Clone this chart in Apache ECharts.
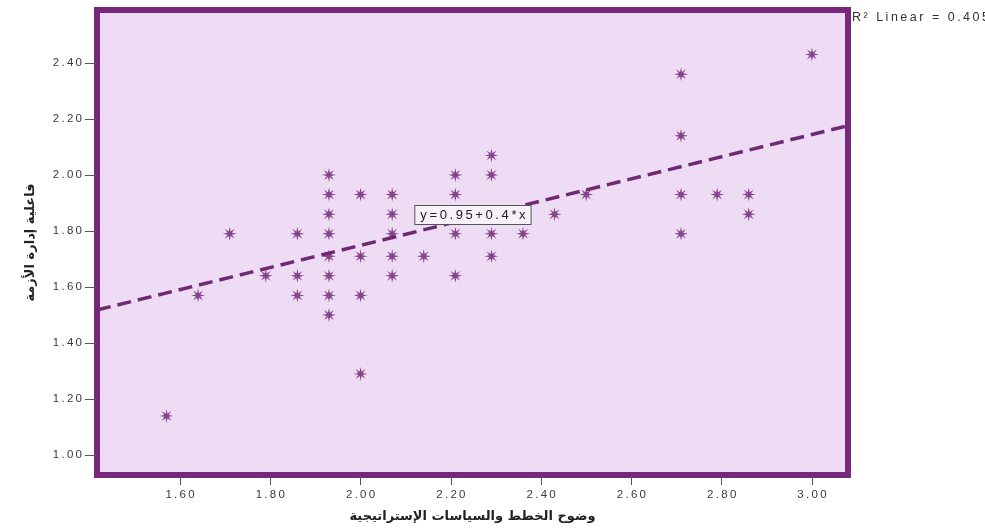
<!DOCTYPE html>
<html>
<head>
<meta charset="utf-8">
<script src="https://cdn.jsdelivr.net/npm/echarts@6/dist/echarts.min.js"></script>
<style>
html,body{margin:0;padding:0;background:#ffffff;}
#chart{width:985px;height:529px;}
</style>
</head>
<body>
<div id="chart"></div>
<script>
// ---- data ----
var xValues = [1.57,1.64,1.71,1.79,1.86,1.86,1.86,
  1.93,1.93,1.93,1.93,1.93,1.93,1.93,1.93,
  2.00,2.00,2.00,2.00,
  2.07,2.07,2.07,2.07,2.07,
  2.14,
  2.21,2.21,2.21,2.21,
  2.29,2.29,2.29,2.29,
  2.36,2.43,2.50,
  2.71,2.71,2.71,2.71,
  2.79,2.86,2.86,3.00];
var yValues = [1.14,1.57,1.79,1.64,1.79,1.64,1.57,
  2.00,1.93,1.86,1.79,1.71,1.64,1.57,1.50,
  1.93,1.71,1.57,1.29,
  1.93,1.86,1.79,1.71,1.64,
  1.71,
  2.00,1.93,1.79,1.64,
  2.07,2.00,1.79,1.71,
  1.79,1.86,1.93,
  2.36,2.14,1.93,1.79,
  1.93,1.93,1.86,2.43];
var fitLineX = [1.416, 3.08];
var fitLineY = [1.518, 2.176];
var xTicks = [1.6,1.8,2.0,2.2,2.4,2.6,2.8,3.0];
var yTicks = [1.0,1.2,1.4,1.6,1.8,2.0,2.2,2.4];
var xTitle = 'وضوح الخطط والسياسات الإستراتيجية';
var yTitle = 'فاعلية إدارة الأزمة';
var equationText = 'y=0.95+0.4*x';
var equationAt = [2.249, 1.857];
var r2Text = 'R² Linear = 0.405';

var points = xValues.map(function(x,i){return [x,yValues[i]];});
var fitLine = fitLineX.map(function(x,i){return [x,fitLineY[i]];});

// widen text like the original rendering (thin spaces between characters)
function spaced(s){ return s.split('').join('\u2009'); }

var starPath = 'path://M100 50 L66 57 L85.36 85.36 L57 66 L50 100 L43 66 L14.64 85.36 L34 57 L0 50 L34 43 L14.64 14.64 L43 34 L50 0 L57 34 L85.36 14.64 L66 43 Z';

var chart = echarts.init(document.getElementById('chart'), null, {renderer:'canvas'});
var labelFont = {fontFamily:'Liberation Sans, Arial, sans-serif', fontSize:11.5, color:'#3a3a3a'};
chart.setOption({
  animation:false,
  backgroundColor:'#ffffff',
  grid:{left:97, right:137, top:10, bottom:54, show:true,
        backgroundColor:'#eedcf5', borderColor:'#77287a', borderWidth:6, containLabel:false},
  xAxis:{type:'value', min:1.416, max:3.08,
    axisLine:{show:false}, splitLine:{show:false},
    axisTick:{show:true, length:10, lineStyle:{color:'#555555', width:1}, customValues:xTicks},
    axisLabel:Object.assign({margin:14, customValues:xTicks,
      formatter:function(v){return spaced(v.toFixed(2));}}, labelFont),
    name:xTitle, nameLocation:'middle', nameGap:35,
    nameTextStyle:{fontFamily:'DejaVu Sans, sans-serif', fontSize:13, fontWeight:'bold', color:'#222222'}
  },
  yAxis:{type:'value', min:0.929, max:2.589,
    axisLine:{show:false}, splitLine:{show:false},
    axisTick:{show:true, length:12, lineStyle:{color:'#555555', width:1}, customValues:yTicks},
    axisLabel:Object.assign({margin:15, customValues:yTicks,
      formatter:function(v){return spaced(v.toFixed(2));}}, labelFont),
    name:yTitle, nameLocation:'middle', nameGap:60, nameRotate:90,
    nameTextStyle:{fontFamily:'DejaVu Sans, sans-serif', fontSize:13, fontWeight:'bold', color:'#222222'}
  },
  series:[
    {type:'line', data:fitLine, symbol:'none', silent:true, z:2,
     lineStyle:{color:'#6e2a72', width:3.5, type:[14,7]},
     markPoint:{symbol:'rect', symbolSize:1, itemStyle:{color:'rgba(0,0,0,0)'},
       label:{show:true, position:'inside', formatter:spaced(equationText),
         fontFamily:'Liberation Sans, Arial, sans-serif', fontSize:13, color:'#222222',
         backgroundColor:'#f7f1f8', borderColor:'#555555', borderWidth:1, padding:[3,5,2,5]},
       data:[{coord:equationAt}]}},
    {type:'scatter', data:points, symbol:starPath, symbolSize:14, z:3,
     itemStyle:{color:'#6c1f6f'}}
  ],
  graphic:[
    {type:'text', left:852, top:11,
     style:{text:spaced(r2Text), fontFamily:'Liberation Sans, Arial, sans-serif', fontSize:12.5, fill:'#333333'}}
  ]
});
</script>
</body>
</html>
